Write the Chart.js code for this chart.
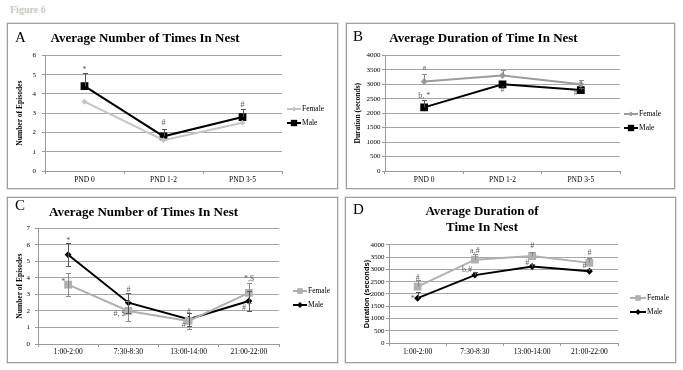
<!DOCTYPE html>
<html><head><meta charset="utf-8">
<script src="https://cdn.jsdelivr.net/npm/chart.js@4.4.0/dist/chart.umd.min.js"></script>
<style>
body{margin:0;background:#fff;width:683px;height:370px;overflow:hidden;position:relative;font-family:"Liberation Serif",serif}
.fig{position:absolute;left:10px;top:4px;font:bold 10px "Liberation Serif",serif;color:#c8c8c8}
.panel{position:absolute;box-sizing:border-box;border:1px solid #a0a0a0;box-shadow:0 0 0 1px #e2e2e2}
.panel canvas{position:absolute;left:0;top:0}
.letter{position:absolute;font:15px/1 "Liberation Serif",serif;color:#000}
</style></head><body>
<div class="fig">Figure 6</div>
<div class="panel" style="left:7px;top:23px;width:331px;height:166px"><canvas id="cA" width="329" height="164"></canvas></div>
<div class="panel" style="left:346px;top:23px;width:329px;height:166px"><canvas id="cB" width="327" height="164"></canvas></div>
<div class="panel" style="left:7px;top:197px;width:331px;height:166px"><canvas id="cC" width="329" height="164"></canvas></div>
<div class="panel" style="left:345px;top:197px;width:331px;height:166px"><canvas id="cD" width="329" height="164"></canvas></div>
<div class="letter" style="left:15px;top:30px">A</div>
<div class="letter" style="left:353px;top:29px">B</div>
<div class="letter" style="left:15px;top:198px">C</div>
<div class="letter" style="left:353px;top:202px">D</div>
<script>
// ---- data ----
const labelsAB = ['PND 0', 'PND 1-2', 'PND 3-5'];
const labelsCD = ['1:00-2:00', '7:30-8:30', '13:00-14:00', '21:00-22:00'];
const seriesNames = ['Female', 'Male'];

const femaleA = [3.6, 1.6, 2.5];
const maleA = [4.4, 1.8, 2.8];
const femaleErrA = [0, 0, 0];
const maleErrA = [0.7, 0.4, 0.4];
const yRangeA = [0, 6, 1];

const femaleB = [3100, 3300, 3000];
const maleB = [2200, 3000, 2800];
const femaleErrB = [250, 180, 150];
const maleErrB = [250, 0, 60];
const yRangeB = [0, 4000, 500];

const femaleC = [3.6, 2.0, 1.4, 3.1];
const maleC = [5.4, 2.5, 1.5, 2.6];
const femaleErrC = [0.7, 0.6, 0.5, 0.6];
const maleErrC = [0.7, 0.6, 0.4, 0.6];
const yRangeC = [0, 7, 1];

const femaleD = [2300, 3400, 3550, 3270];
const maleD = [1830, 2770, 3120, 2930];
const femaleErrD = [270, 220, 150, 180];
const maleErrD = [250, 120, 100, 80];
const yRangeD = [0, 4000, 500];

const notesA = [[0, 5.25, '*', 'c'], [1, 2.5, '#', 'c'], [2, 3.45, '#', 'c']];
const notesB = [[0, 3560, 'a', 'c'], [0, 2600, 'b, *', 'c'], [1, 2800, '#', 'c'], [2, 2700, '#', 'l']];
const notesC = [[0, 6.25, '*', 'c'], [0, 3.74, '*', 'l'], [1, 3.3, '#', 'c'], [1, 1.8, '#, $', 'l'],
                [2, 1.95, '#', 'c'], [2, 1.15, '#', 'l'], [3, 3.92, '*,$', 'c'], [3, 2.17, '#', 'l']];
const notesD = [[0, 2650, '#', 'c'], [0, 1800, '*', 'l'], [1, 3750, 'a,#', 'c'], [1, 2980, 'b,#', 'l'],
                [2, 3960, '#', 'c'], [2, 3270, '#', 'l'], [3, 3670, '#', 'c'], [3, 3140, '#', 'l']];

// ---- plugins ----
const errorBars = {
  id: 'errorBars',
  afterDatasetsDraw(chart) {
    const ctx = chart.ctx, ys = chart.scales.y;
    chart.data.datasets.forEach((ds, di) => {
      if (!ds.err) return;
      const meta = chart.getDatasetMeta(di);
      ctx.save();
      ctx.strokeStyle = ds.errColor; ctx.lineWidth = 1;
      meta.data.forEach((pt, i) => {
        const e = ds.err[i]; if (!e) return;
        const v = ds.data[i];
        const x = Math.round(pt.x) + 0.5;
        const top = Math.round(ys.getPixelForValue(v + e)) + 0.5;
        const bot = ds.errBoth ? Math.round(ys.getPixelForValue(v - e)) + 0.5 : pt.y;
        ctx.beginPath();
        ctx.moveTo(x, top); ctx.lineTo(x, bot);
        ctx.moveTo(x - 2.5, top); ctx.lineTo(x + 2.5, top);
        if (ds.errBoth) { ctx.moveTo(x - 2.5, bot); ctx.lineTo(x + 2.5, bot); }
        ctx.stroke();
      });
      ctx.restore();
    });
  }
};

function notesPlugin(notes) {
  return {
    id: 'notes',
    afterDraw(chart) {
      const ctx = chart.ctx, xs = chart.scales.x, ys = chart.scales.y;
      ctx.save();
      ctx.font = "8px 'Liberation Serif'";
      ctx.fillStyle = '#5a5a5a';
      ctx.textBaseline = 'middle';
      notes.forEach(([i, v, t, side]) => {
        const x = xs.getPixelForValue(i), y = ys.getPixelForValue(v);
        if (side === 'l') { ctx.textAlign = 'right'; ctx.fillText(t, x - 3, y); }
        else { ctx.textAlign = 'center'; ctx.fillText(t, x, y); }
      });
      ctx.restore();
    }
  };
}

function legendPlugin(L) {
  return {
    id: 'sideLegend',
    afterDraw(chart) {
      const ctx = chart.ctx;
      chart.data.datasets.forEach((ds, i) => {
        const y = L.y + i * L.gap;
        ctx.save();
        ctx.strokeStyle = ds.borderColor; ctx.lineWidth = 2;
        ctx.beginPath(); ctx.moveTo(L.x, y); ctx.lineTo(L.x + L.len, y); ctx.stroke();
        ctx.fillStyle = ds.backgroundColor; ctx.strokeStyle = ds.backgroundColor;
        Chart.helpers.drawPoint(ctx, {pointStyle: ds.pointStyle, radius: ds.legendR || ds.pointRadius, rotation: 0, borderWidth: 0}, L.x + L.len / 2, y);
        ctx.fillStyle = '#000'; ctx.font = "7.5px 'Liberation Serif'";
        ctx.textBaseline = 'middle'; ctx.textAlign = 'left';
        ctx.fillText(ds.label, L.x + L.len + 1, y);
        ctx.restore();
      });
    }
  };
}

function build(id, o) {
  const serif = "'Liberation Serif'";
  new Chart(document.getElementById(id), {
    type: 'line',
    data: {
      labels: o.labels,
      datasets: [
        {label: seriesNames[0], data: o.female, borderColor: o.fColor, backgroundColor: o.fColor,
         pointStyle: o.fStyle, pointRadius: o.fR, pointHoverRadius: o.fR, pointBorderWidth: 0, borderWidth: 2,
         err: o.fErr, errBoth: o.both, errColor: '#8a8a8a', legendR: o.fLR},
        {label: seriesNames[1], data: o.male, borderColor: '#000', backgroundColor: '#000',
         pointStyle: o.mStyle, pointRadius: o.mR, pointHoverRadius: o.mR, pointBorderWidth: 0, borderWidth: 2,
         err: o.mErr, errBoth: o.both, errColor: '#555', legendR: o.mLR}
      ]
    },
    options: {
      responsive: false, animation: false, devicePixelRatio: 1,
      layout: {padding: {left: 0, right: o.padR, top: 0, bottom: 0}},
      plugins: {
        legend: {display: false},
        tooltip: {enabled: false},
        title: {display: true, text: o.title, color: '#000',
                font: {family: serif, size: 13, weight: 'bold', lineHeight: 1.23},
                padding: {top: o.tTop, bottom: o.tBot}}
      },
      scales: {
        x: {
          offset: true,
          grid: {display: true, drawOnChartArea: false, offset: true, tickLength: 3, color: '#999999'},
          border: {color: '#999999'},
          ticks: {font: {family: serif, size: 7.5}, color: '#000', padding: o.xPad, maxRotation: 0, autoSkip: false},
          afterFit: s => { s.height = o.xH; }
        },
        y: {
          min: o.yr[0], max: o.yr[1],
          ticks: {stepSize: o.yr[2], font: {family: serif, size: 7}, color: '#000', padding: o.yPad,
                  callback: v => String(v)},
          grid: {display: true, drawOnChartArea: true, color: '#a6a6a6', tickColor: '#999999', tickLength: 3, lineWidth: 1},
          border: {color: '#999999'},
          title: {display: true, text: o.yTitle, color: '#000',
                  font: {family: o.yFont || serif, size: 7.5, weight: 'bold'},
                  padding: {top: o.yTitlePad, bottom: 0}},
          afterFit: s => { s.width = o.yW; }
        }
      }
    },
    plugins: [errorBars, notesPlugin(o.notes), legendPlugin(o.legend)]
  });
}

build('cA', {labels: labelsAB, female: femaleA, male: maleA, fErr: femaleErrA, mErr: maleErrA, both: false,
  fColor: '#c4c4c4', fStyle: 'rectRot', fR: 3, fLR: 2.5, mStyle: 'rect', mR: 5.5, mLR: 4.5,
  yr: yRangeA, title: 'Average Number of Times In Nest', yTitle: 'Number of Episodes',
  tTop: 6.2, tBot: 9.2, xH: 17, xPad: 2, yW: 37, yPad: 6, yTitlePad: 7.4, padR: 55,
  notes: notesA, legend: {x: 279, y: 85, gap: 14, len: 14}});

build('cB', {labels: labelsAB, female: femaleB, male: maleB, fErr: femaleErrB, mErr: maleErrB, both: false,
  fColor: '#9c9c9c', fStyle: 'rectRot', fR: 3.5, fLR: 2.5, mStyle: 'rect', mR: 5.5, mLR: 4.5,
  yr: yRangeB, title: 'Average Duration of Time In Nest', yTitle: 'Duration (seconds)',
  tTop: 6.2, tBot: 9.2, xH: 17, xPad: 2, yW: 38, yPad: 1.5, yTitlePad: 6.4, padR: 54,
  notes: notesB, legend: {x: 277, y: 90, gap: 14, len: 14}});

build('cC', {labels: labelsCD, female: femaleC, male: maleC, fErr: femaleErrC, mErr: maleErrC, both: true,
  fColor: '#b0b0b0', fStyle: 'rect', fR: 5.5, fLR: 4, mStyle: 'rectRot', mR: 3.5, mLR: 3,
  yr: yRangeC, title: 'Average Number of Times In Nest', yTitle: 'Number of Episodes',
  tTop: 6.2, tBot: 8.2, xH: 18, xPad: 1, yW: 30, yPad: 5, yTitlePad: 7.4, padR: 58,
  notes: notesC, legend: {x: 285, y: 93, gap: 14, len: 14}});

build('cD', {labels: labelsCD, female: femaleD, male: maleD, fErr: femaleErrD, mErr: maleErrD, both: false,
  fColor: '#b0b0b0', fStyle: 'rect', fR: 5.5, fLR: 4, mStyle: 'rectRot', mR: 3.5, mLR: 3,
  yr: yRangeD, title: ['Average Duration of', 'Time In Nest'], yTitle: 'Duration (seconds)', yFont: "'Liberation Sans'",
  tTop: 6, tBot: 9, xH: 19, xPad: 2, yW: 43, yPad: 1.5, yTitlePad: 16, padR: 57,
  notes: notesD, legend: {x: 284, y: 100, gap: 14, len: 16}});
</script>
</body></html>
